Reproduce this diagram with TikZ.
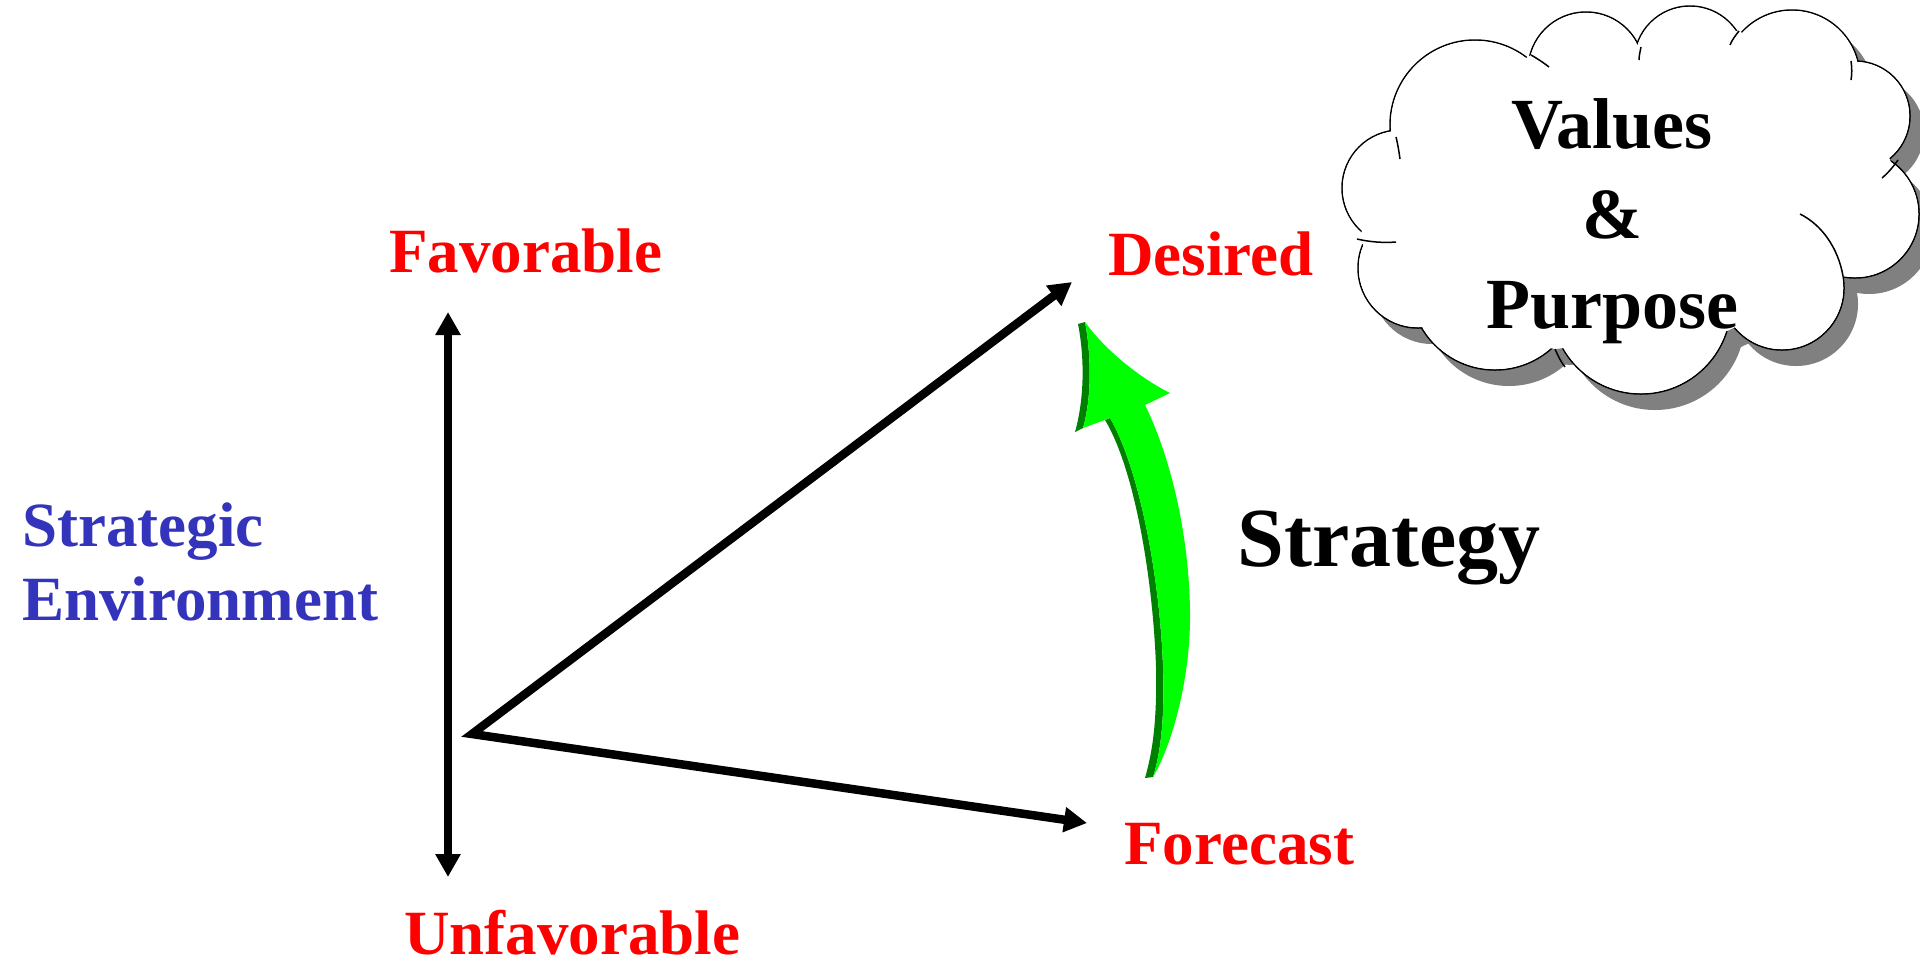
\documentclass[tikz,border=0pt]{standalone}
\usepackage{fontspec}
\setmainfont{Liberation Serif}
\usetikzlibrary{arrows.meta}

\definecolor{envblue}{RGB}{51,51,187}
\definecolor{shadowgray}{RGB}{128,128,128}
\definecolor{arrowgreen}{RGB}{0,255,0}
\definecolor{sidegreen}{RGB}{0,128,0}

\begin{document}
\begin{tikzpicture}[x=0.5pt,y=0.5pt,yscale=-1,
  lbl/.style={inner sep=0pt,font=\bfseries\fontsize{31.5}{36.5}\selectfont},
  redlbl/.style={lbl,color=red},
  bluelbl/.style={lbl,color=envblue,align=left},
  axis/.style={line width=4.25pt,{Triangle[length=11.5pt,width=12pt]}-{Triangle[length=11.5pt,width=12pt]}},
  puff/.style={draw=black,line width=0.75pt}]
\useasboundingbox (0,0) rectangle (1920,966);

%Shape: Cloud shadow
\begin{scope}[shift={(14,16)}]
\foreach \cx/\cy/\r in {1475/125/85,1586/70/58,1690/62/56,1792/78/68,1855/116/55,1855/214/64,1782/288/62,1641/304/90,1495/285/85,1418/268/60,1400/188/58}
  \fill[shadowgray] (\cx,\cy) circle (\r);
\fill[shadowgray] (1531,55) -- (1641,47) -- (1736,31) -- (1851,61) -- (1892,165) -- (1843,276) -- (1727,331) -- (1555,349) -- (1420,324) -- (1359,239) -- (1396,137) -- cycle;
\end{scope}
%Shape: Cloud
\foreach \cx/\cy/\r in {1475/125/85,1586/70/58,1690/62/56,1792/78/68,1855/116/55,1855/214/64,1782/288/62,1641/304/90,1495/285/85,1418/268/60,1400/188/58}
  \filldraw[fill=white,puff] (\cx,\cy) circle (\r);
\foreach \cx/\cy/\r in {1475/125/85,1586/70/58,1690/62/56,1792/78/68,1855/116/55,1855/214/64,1782/288/62,1641/304/90,1495/285/85,1418/268/60,1400/188/58}
  \fill[white] (\cx,\cy) circle (\r-0.9);
\fill[white] (1531,55) -- (1641,47) -- (1736,31) -- (1851,61) -- (1892,165) -- (1843,276) -- (1727,331) -- (1555,349) -- (1420,324) -- (1359,239) -- (1396,137) -- cycle;
%Shape: Cloud inner strokes
\draw[puff] (1396,137) .. controls (1398,145) and (1399,152) .. (1400,159);
\draw[puff] (1531,55) .. controls (1538,59) and (1544,63) .. (1549,67);
\draw[puff] (1641,47) .. controls (1640,52) and (1639,56) .. (1639,60);
\draw[puff] (1739,31) .. controls (1735,36) and (1732,40) .. (1730,45);
\draw[puff] (1851,61) .. controls (1852,68) and (1852,74) .. (1851,80);
\draw[puff] (1898,160) .. controls (1893,167) and (1888,173) .. (1882,178);
\draw[puff] (1800,214) .. controls (1822,225) and (1838,248) .. (1843,276);
\draw[puff] (1555,349) .. controls (1558,356) and (1561,362) .. (1565,367);
\draw[puff] (1357,239) .. controls (1370,242) and (1383,243) .. (1396,242);

%Shape: Green block arrow, dark side
\fill[sidegreen] (1078,324) -- (1085,322) .. controls (1092,360) and (1091,400) .. (1083,428) -- (1075,432) .. controls (1084,400) and (1085,360) .. (1078,324) -- cycle;
\fill[sidegreen] (1105,420) -- (1110,418) .. controls (1140,470) and (1160,580) .. (1163,667) .. controls (1165,720) and (1160,755) .. (1153,777) -- (1145,778) .. controls (1153,750) and (1157,720) .. (1156,667) .. controls (1153,580) and (1135,470) .. (1105,420) -- cycle;
%Shape: Green block arrow, face
\fill[arrowgreen] (1153,777) .. controls (1172,745) and (1190,680) .. (1190,617) .. controls (1190,540) and (1172,460) .. (1145,405) -- (1170,393) .. controls (1140,378) and (1105,350) .. (1085,322) .. controls (1092,360) and (1091,400) .. (1083,428) -- (1110,418) .. controls (1140,470) and (1160,580) .. (1163,667) .. controls (1165,720) and (1160,755) .. (1153,777) -- cycle;

% Arrow ends
\coordinate (favtip) at (448,312);
\coordinate (unfavtip) at (448,877);
\coordinate (origin) at (472,734);
\coordinate (desiredtip) at (1072,282);
\coordinate (forecasttip) at (1087,823);

%Straight Lines
\draw[axis] (favtip) -- (unfavtip);
\draw[axis] (desiredtip) -- (origin) -- (forecasttip);

% Text Node
\node (fav) [redlbl,anchor=base west] at (389,272) {Favorable};
% Text Node
\node (unfav) [redlbl,anchor=base west] at (404,954) {Unfavorable};
% Text Node
\node (desired) [redlbl,anchor=base west] at (1108,275) {Desired};
% Text Node
\node (forecast) [redlbl,anchor=base west] at (1124,864) {Forecast};
% Text Node
\node (env) [bluelbl,anchor=north west] at (22,502) {Strategic\\[0.5pt]Environment};
% Text Node
\node (strategy) [lbl,anchor=base west,font=\bfseries\fontsize{42}{48}\selectfont] at (1237,566) {Strategy};
% Text Node
\node (values) [lbl,align=center,anchor=north,font=\bfseries\fontsize{36}{45}\selectfont] at (1612,98) {Values\\\&\\Purpose};

\end{tikzpicture}
\end{document}
